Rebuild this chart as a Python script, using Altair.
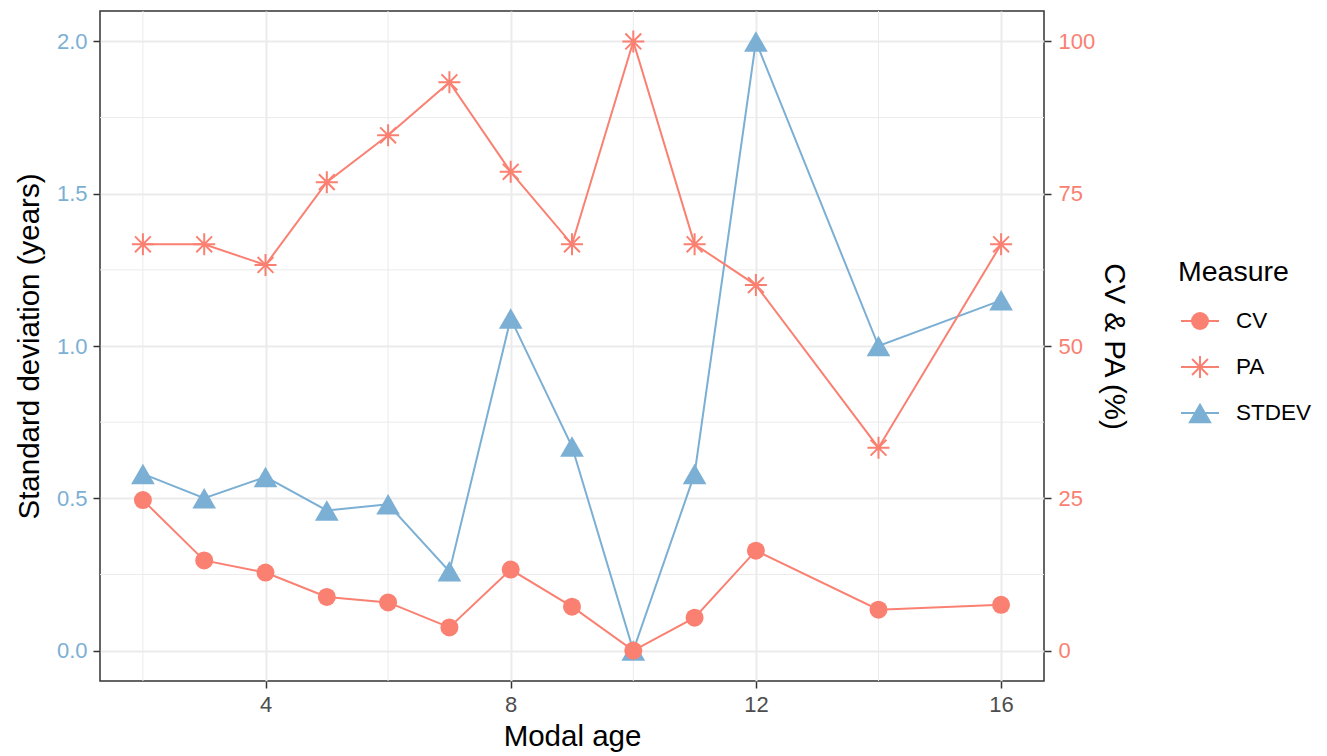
import altair as alt
import pandas as pd

# ---- data ----
ages = [2, 3, 4, 5, 6, 7, 8, 9, 10, 11, 12, 14, 16]
stdev = [0.58, 0.50, 0.57, 0.46, 0.48, 0.26, 1.09, 0.67, 0.00, 0.58, 2.00, 1.00, 1.15]
cv = [24.7, 14.8, 12.8, 8.8, 7.9, 3.8, 13.3, 7.2, 0.0, 5.4, 16.4, 6.7, 7.5]
pa = [66.7, 66.7, 63.3, 76.9, 84.6, 93.3, 78.6, 66.7, 100.0, 66.7, 60.0, 33.3, 66.7]
measures = ["CV", "PA", "STDEV"]
x_ticks = [4, 8, 12, 16]
x_minor = [2, 6, 10, 14]
left_ticks = [0.0, 0.5, 1.0, 1.5, 2.0]
left_minor = [0.25, 0.75, 1.25, 1.75]
right_ticks = [0, 25, 50, 75, 100]

SALMON = "#FA8072"
BLUE = "#7BAFD4"
FONT = "Liberation Sans"
GRID = "#EBEBEB"
DARK = "#333333"
ASTERISK = "M-1,0L1,0M0,-1L0,1M-0.72,-0.72L0.72,0.72M-0.72,0.72L0.72,-0.72"
TITLE_SIZE = 29.5

df = pd.DataFrame({"age": ages, "STDEV": stdev, "CV": cv, "PA": pa})
xminor_df = pd.DataFrame({"age": x_minor})
yminor_df = pd.DataFrame({"STDEV": left_minor})

x_enc = alt.X(
    "age:Q",
    scale=alt.Scale(domain=[1.3, 16.7], nice=False, zero=False),
    axis=alt.Axis(
        values=x_ticks, title="Modal age", grid=True, gridColor=GRID, gridWidth=2,
        domain=False, tickColor=DARK, tickWidth=1.5, tickSize=7,
        labelFontSize=22, labelColor="#4D4D4D", labelPadding=6, labelFont=FONT,
        titleFontSize=TITLE_SIZE, titleFontWeight="normal", titleColor="black",
        titlePadding=7, titleFont=FONT,
    ),
)

y_left = alt.Y(
    "STDEV:Q",
    scale=alt.Scale(domain=[-0.1, 2.1], nice=False, zero=False),
    axis=alt.Axis(
        orient="left", values=left_ticks, format=".1f",
        title="Standard deviation (years)", grid=True, gridColor=GRID, gridWidth=2,
        domain=False, tickColor=DARK, tickWidth=1.5, tickSize=7,
        labelFontSize=22, labelColor=BLUE, labelPadding=6, labelFont=FONT,
        titleFontSize=TITLE_SIZE, titleFontWeight="normal", titleColor="black",
        titlePadding=12, titleFont=FONT,
    ),
)

def y_right(field):
    return alt.Y(
        f"{field}:Q",
        scale=alt.Scale(domain=[-5, 105], nice=False, zero=False),
        axis=alt.Axis(
            orient="right", values=right_ticks, title="CV & PA (%)", grid=False,
            domain=False, tickColor=DARK, tickWidth=1.5, tickSize=7,
            labelFontSize=22, labelColor=SALMON, labelPadding=7, labelFont=FONT,
            titleFontSize=TITLE_SIZE, titleFontWeight="normal", titleColor="black",
            titlePadding=4, titleFont=FONT,
        ),
    )

base = alt.Chart(df)

minor_x = alt.Chart(xminor_df).mark_rule(color=GRID, strokeWidth=1).encode(x=x_enc)
minor_y = alt.Chart(yminor_df).mark_rule(color=GRID, strokeWidth=1).encode(y=y_left)

stdev_line = base.mark_line(color=BLUE, strokeWidth=2).encode(x=x_enc, y=y_left)
stdev_pts = base.mark_point(shape="triangle-up", filled=True, color=BLUE, size=560, opacity=1).encode(x=x_enc, y=y_left)

left = alt.layer(minor_x, minor_y, stdev_line, stdev_pts)

pa_base = alt.Chart(df).transform_calculate(CV="datum.PA")
cv_line = base.mark_line(color=SALMON, strokeWidth=2).encode(x=x_enc, y=y_right("CV"))
pa_line = pa_base.mark_line(color=SALMON, strokeWidth=2).encode(x=x_enc, y=y_right("CV"))
cv_pts = base.mark_point(shape="circle", filled=True, color=SALMON, size=324, opacity=1).encode(x=x_enc, y=y_right("CV"))
pa_pts = pa_base.mark_point(
    shape=ASTERISK, filled=False, color=SALMON, size=484, strokeWidth=2, opacity=1
).encode(x=x_enc, y=y_right("CV"))

right = alt.layer(cv_line, pa_line, cv_pts, pa_pts)

main = alt.layer(left, right).resolve_scale(y="independent").properties(
    width=944, height=670, view=alt.ViewBackground(stroke=DARK, strokeWidth=1.5)
)

# ---- legend built as a small chart ----
leg_df = pd.DataFrame({"Measure": measures})
leg_y = alt.Y("Measure:N", scale=alt.Scale(type="point", domain=measures, range=[310, 402], padding=0), axis=None)
leg_color = alt.Color("Measure:N", scale=alt.Scale(domain=measures, range=[SALMON, SALMON, BLUE]), legend=None)
lb = alt.Chart(leg_df)
leg_rule = lb.mark_rule(strokeWidth=2).encode(x=alt.value(3), x2=alt.value(41), y=leg_y, color=leg_color)
leg_cv = lb.transform_filter(alt.datum.Measure == "CV").mark_point(
    shape="circle", filled=True, size=324, opacity=1).encode(x=alt.value(22), y=leg_y, color=leg_color)
leg_pa = lb.transform_filter(alt.datum.Measure == "PA").mark_point(
    shape=ASTERISK, filled=False, size=484, strokeWidth=2, opacity=1).encode(x=alt.value(22), y=leg_y, color=leg_color)
leg_sd = lb.transform_filter(alt.datum.Measure == "STDEV").mark_point(
    shape="triangle-up", filled=True, size=560, opacity=1).encode(x=alt.value(22), y=leg_y, color=leg_color)
leg_text = lb.mark_text(align="left", baseline="middle", fontSize=22.5, font=FONT, color="black").encode(
    x=alt.value(58), y=leg_y, text="Measure:N")
leg_title = alt.Chart(pd.DataFrame({"t": ["Measure"]})).mark_text(
    align="left", baseline="alphabetic", fontSize=28.5, font=FONT, color="black"
).encode(x=alt.value(0), y=alt.value(270), text="t:N")

legend = alt.layer(leg_rule, leg_cv, leg_pa, leg_sd, leg_text, leg_title).properties(
    width=140, height=670, view=alt.ViewBackground(strokeOpacity=0)
)

chart = alt.hconcat(main, legend, spacing=48).properties(
    padding={"left": 5, "top": 1, "right": 0, "bottom": 0}
).configure(font=FONT)

chart.save("out.html", embed_options={"renderer": "svg", "actions": False})
